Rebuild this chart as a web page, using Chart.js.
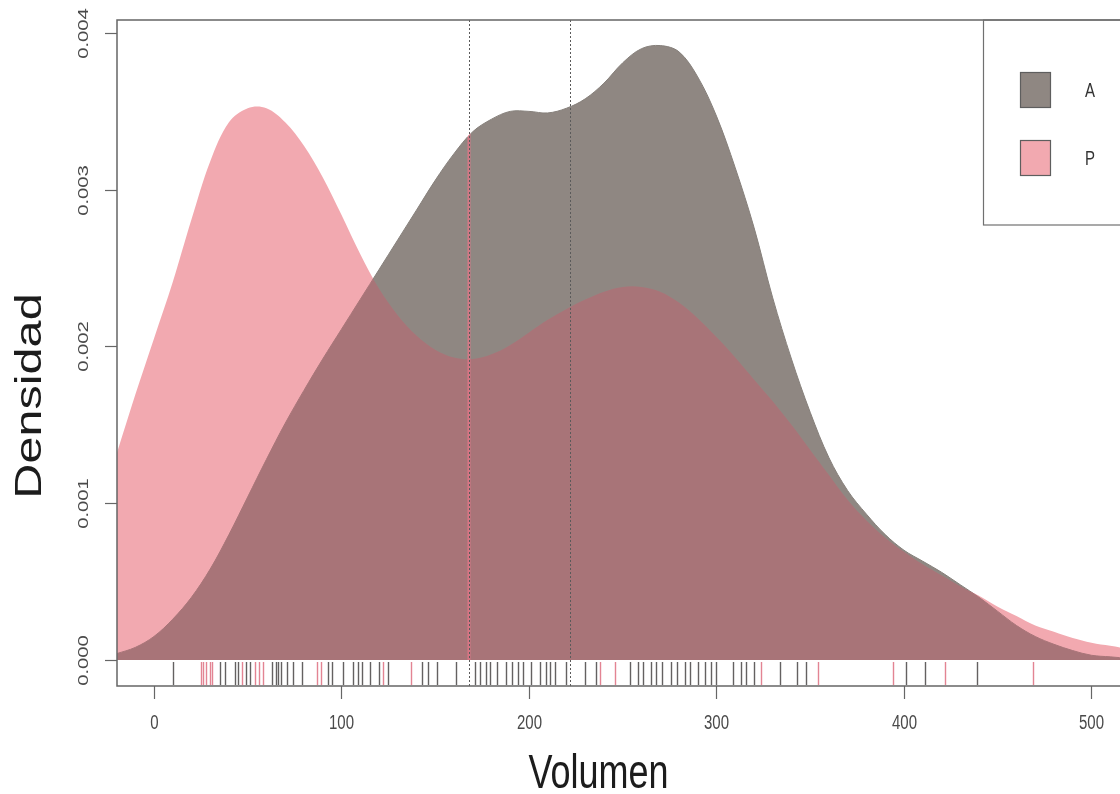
<!DOCTYPE html>
<html lang="es">
<head>
<meta charset="UTF-8" />
<title>Densidad por volumen</title>
<script src="https://cdn.jsdelivr.net/npm/chart.js"></script>
<style>
  html, body { margin: 0; padding: 0; background: #fff; }
  #wrap { width: 1120px; height: 794px; }
</style>
</head>
<body>
<div id="wrap"><canvas id="densChart" width="1120" height="794"></canvas></div>
<script>
// density estimates, one value per volumen step
const volumen = [-20, -10, 0, 10, 20, 30, 40, 50, 60, 70, 80, 90, 100, 110, 120, 130, 140, 150, 160, 170,
  180, 190, 200, 210, 220, 230, 240, 250, 260, 270, 280, 290, 300, 310, 320, 330, 340, 350, 360, 370,
  380, 390, 400, 410, 420, 430, 440, 450, 460, 470, 480, 490, 500, 510, 520];

const densA = [0.00004, 0.00008, 0.00015, 0.00026, 0.00040, 0.00058, 0.00080, 0.00104, 0.00128, 0.00151,
  0.00172, 0.00192, 0.00211, 0.00230, 0.00249, 0.00268, 0.00287, 0.00306, 0.00323, 0.00337,
  0.00345, 0.00350, 0.00350, 0.00349, 0.00352, 0.00358, 0.00368, 0.00381, 0.00390, 0.00392,
  0.00388, 0.00372, 0.00347, 0.00314, 0.00276, 0.00231, 0.00192, 0.00158, 0.00129, 0.00108,
  0.00093, 0.00080, 0.00070, 0.00063, 0.00056, 0.00048, 0.00040, 0.00031, 0.00022, 0.00015,
  0.00010, 0.00006, 0.00003, 0.00002, 0.00001];

const densP = [0.00131, 0.00169, 0.00205, 0.00241, 0.00281, 0.00318, 0.00343, 0.00352, 0.00352, 0.00343,
  0.00328, 0.00308, 0.00284, 0.00259, 0.00237, 0.00220, 0.00207, 0.00198, 0.00193, 0.00192,
  0.00195, 0.00201, 0.00209, 0.00217, 0.00224, 0.00230, 0.00235, 0.00238, 0.00238, 0.00235,
  0.00228, 0.00218, 0.00206, 0.00193, 0.00179, 0.00165, 0.00150, 0.00134, 0.00118, 0.00102,
  0.00089, 0.00078, 0.00069, 0.00061, 0.00054, 0.00047, 0.00041, 0.00034, 0.00028, 0.00022,
  0.00018, 0.00014, 0.00011, 0.00009, 0.00007];

// rug marks (observations)
const rugA = [10, 35, 38, 43, 45, 49, 51, 63, 65, 66, 68, 71, 74, 79, 93, 95, 101, 106, 109, 111, 115, 120, 125,
  143, 146, 151, 161, 171, 174, 177, 179, 183, 188, 191, 194, 197, 201, 206, 209, 211, 214, 220, 230, 236,
  254, 258, 261, 265, 268, 271, 276, 279, 283, 286, 290, 294, 297, 300, 309, 313, 316, 320, 334, 343, 348,
  401, 411, 439];
const rugP = [25, 26, 28, 30, 31, 47, 54, 56, 58, 87, 89, 122, 137, 238, 246, 324, 354, 394, 422, 469];

// vertical reference lines
const meanP = 168;
const meanA = 222;

const xTicks = [0, 100, 200, 300, 400, 500];
const yTicks = [0, 0.001, 0.002, 0.003, 0.004];
const yTickLabels = ['0.000', '0.001', '0.002', '0.003', '0.004'];
const seriesNames = ['A', 'P'];

const X_MIN = -19.7, X_MAX = 515.2;
const Y_MIN = -0.000166, Y_MAX = 0.004083;

const GRAY = '#8f8782';
const PINK = '#f2a9b0';
const MAUVE = '#a87478';
const FONT = "'Liberation Sans', Arial, sans-serif";
const SY = 1.35; // picture is stretched vertically

function pts(ys) {
  return volumen.map((x, i) => ({ x: x, y: ys[i] }));
}

function setBlend(chart, idx) {
  const ds = chart.data.datasets[idx];
  chart.ctx.globalCompositeOperation = (ds && ds.blend) || 'source-over';
}

// filler draws inside beforeDatasetDraw, so the op for the next dataset is set ahead of time
const blendPlugin = {
  id: 'blend',
  beforeDatasetsDraw(chart) {
    const seq = chart.getSortedVisibleDatasetMetas().slice().reverse().map(m => m.index);
    chart.$blendSeq = seq;
    setBlend(chart, seq.length ? seq[0] : -1);
  },
  afterDatasetDraw(chart, args) {
    const seq = chart.$blendSeq;
    const pos = seq.indexOf(args.index);
    setBlend(chart, pos + 1 < seq.length ? seq[pos + 1] : -1);
  },
  afterDatasetsDraw(chart) {
    chart.ctx.globalCompositeOperation = 'source-over';
  }
};

function stretchedText(ctx, text, x, y, rotate) {
  ctx.save();
  ctx.translate(x, y);
  ctx.scale(1, SY);
  if (rotate) ctx.rotate(-Math.PI / 2);
  ctx.fillText(text, 0, 0);
  ctx.restore();
}

const decorPlugin = {
  id: 'decor',
  afterDatasetsDraw(chart) {
    const ctx = chart.ctx;
    const area = chart.chartArea;
    const xs = chart.scales.x;

    // rug
    ctx.save();
    ctx.lineWidth = 1.4;
    ctx.strokeStyle = 'rgba(40,36,36,0.72)';
    rugA.forEach(v => {
      const px = Math.round(xs.getPixelForValue(v)) + 0.5;
      ctx.beginPath(); ctx.moveTo(px, area.bottom - 24); ctx.lineTo(px, area.bottom - 1); ctx.stroke();
    });
    ctx.strokeStyle = 'rgba(222,110,128,0.85)';
    rugP.forEach(v => {
      const px = Math.round(xs.getPixelForValue(v)) + 0.5;
      ctx.beginPath(); ctx.moveTo(px, area.bottom - 24); ctx.lineTo(px, area.bottom - 1); ctx.stroke();
    });

    // dotted reference lines
    ctx.strokeStyle = '#5a5a5a';
    ctx.lineWidth = 1;
    ctx.setLineDash([2, 2]);
    [meanP, meanA].forEach(v => {
      const px = Math.round(xs.getPixelForValue(v)) + 0.5;
      ctx.beginPath(); ctx.moveTo(px, area.top); ctx.lineTo(px, area.bottom); ctx.stroke();
    });
    ctx.restore();
  },
  afterDraw(chart) {
    const ctx = chart.ctx;
    const area = chart.chartArea;
    const xs = chart.scales.x, ys = chart.scales.y;
    ctx.save();

    // box (right side is cut off by the picture)
    ctx.strokeStyle = '#666';
    ctx.lineWidth = 1.5;
    ctx.beginPath();
    ctx.moveTo(chart.width, area.top);
    ctx.lineTo(area.left, area.top);
    ctx.lineTo(area.left, area.bottom);
    ctx.lineTo(chart.width, area.bottom);
    ctx.stroke();

    // ticks
    ctx.lineWidth = 1.2;
    ctx.fillStyle = '#4a4a4a';
    ctx.font = '15px ' + FONT;
    ctx.textAlign = 'center';
    ctx.textBaseline = 'middle';
    xTicks.forEach(v => {
      const px = Math.round(xs.getPixelForValue(v)) + 0.5;
      ctx.beginPath(); ctx.moveTo(px, area.bottom); ctx.lineTo(px, area.bottom + 13); ctx.stroke();
      stretchedText(ctx, String(v), px, area.bottom + 37, false);
    });
    yTicks.forEach((v, i) => {
      const py = Math.round(ys.getPixelForValue(v)) + 0.5;
      ctx.beginPath(); ctx.moveTo(area.left, py); ctx.lineTo(area.left - 12, py); ctx.stroke();
      stretchedText(ctx, yTickLabels[i], area.left - 33, py, true);
    });

    // axis titles
    ctx.fillStyle = '#1c1c1c';
    ctx.font = '36px ' + FONT;
    stretchedText(ctx, 'Volumen', (area.left + 1120) / 2 - 20, area.bottom + 89, false);
    stretchedText(ctx, 'Densidad', 31, 396, true);

    // legend
    ctx.strokeStyle = '#707070';
    ctx.lineWidth = 1.2;
    ctx.strokeRect(983.5, area.top, 200, 205);
    const swatch = [GRAY, PINK];
    seriesNames.forEach((name, i) => {
      const top = 72 + i * 68;
      ctx.fillStyle = swatch[i];
      ctx.fillRect(1020, top, 30, 35);
      ctx.strokeStyle = '#5e5e5e';
      ctx.lineWidth = 1.2;
      ctx.strokeRect(1020.5, top + 0.5, 30, 35);
      ctx.fillStyle = '#333';
      ctx.font = '15px ' + FONT;
      stretchedText(ctx, name, 1090, top + 19, false);
    });
    ctx.restore();
  }
};

new Chart(document.getElementById('densChart').getContext('2d'), {
  type: 'line',
  data: {
    datasets: [
      {
        label: 'A',
        data: pts(densA),
        borderColor: '#86807b',
        borderWidth: 1,
        backgroundColor: GRAY,
        fill: 'origin',
        tension: 0.35,
        pointRadius: 0,
        order: 5
      },
      {
        label: 'P (solape)',
        data: pts(densP),
        borderColor: 'rgba(0,0,0,0)',
        borderWidth: 0,
        backgroundColor: MAUVE,
        fill: 'origin',
        tension: 0.35,
        pointRadius: 0,
        order: 4,
        blend: 'source-atop'
      },
      {
        label: 'media P',
        data: [{ x: meanP, y: 0 }, { x: meanP, y: Y_MAX }],
        borderColor: 'rgba(222,118,134,0.85)',
        borderWidth: 3,
        fill: false,
        pointRadius: 0,
        order: 3,
        blend: 'source-atop'
      },
      {
        label: 'P',
        data: pts(densP),
        borderColor: 'rgba(0,0,0,0)',
        borderWidth: 0,
        backgroundColor: PINK,
        fill: 'origin',
        tension: 0.35,
        pointRadius: 0,
        order: 2,
        blend: 'destination-over'
      }
    ]
  },
  options: {
    responsive: false,
    animation: false,
    events: [],
    layout: { padding: { left: 117, top: 20, right: 0, bottom: 108 } },
    scales: {
      x: { type: 'linear', min: X_MIN, max: X_MAX, display: false },
      y: { type: 'linear', min: Y_MIN, max: Y_MAX, display: false }
    },
    plugins: {
      legend: { display: false },
      tooltip: { enabled: false }
    }
  },
  plugins: [blendPlugin, decorPlugin]
});
</script>
</body>
</html>
